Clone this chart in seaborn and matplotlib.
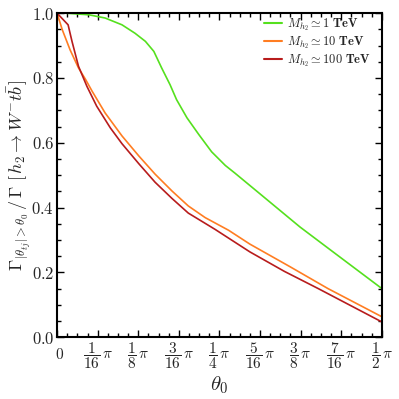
import numpy as np
import pandas as pd
import matplotlib
matplotlib.use("Agg")
import matplotlib.pyplot as plt
import matplotlib.transforms as mtransforms
import seaborn as sns

# theta_0 in units of pi, and ratio values
x_1tev = [0.0, 0.013, 0.049, 0.074, 0.100, 0.120, 0.136, 0.149, 0.161, 0.174,
          0.184, 0.200, 0.218, 0.238, 0.259, 0.274, 0.312, 0.374, 0.423, 0.5]
y_1tev = [1.0, 1.0, 0.995, 0.985, 0.964, 0.938, 0.913, 0.882, 0.831, 0.779,
          0.733, 0.677, 0.626, 0.572, 0.530, 0.506, 0.443, 0.340, 0.266, 0.150]

x_10tev = [0.0, 0.008, 0.020, 0.033, 0.044, 0.054, 0.074, 0.100, 0.126, 0.151,
           0.177, 0.202, 0.228, 0.264, 0.297, 0.359, 0.417, 0.5]
y_10tev = [1.0, 0.949, 0.887, 0.831, 0.795, 0.759, 0.692, 0.621, 0.559, 0.503,
           0.451, 0.405, 0.369, 0.330, 0.287, 0.217, 0.150, 0.063]

x_100tev = [0.0, 0.017, 0.023, 0.033, 0.046, 0.061, 0.082, 0.100, 0.126, 0.151,
            0.177, 0.202, 0.243, 0.297, 0.350, 0.402, 0.5]
y_100tev = [1.0, 0.964, 0.913, 0.836, 0.774, 0.713, 0.646, 0.597, 0.535, 0.478,
            0.428, 0.383, 0.333, 0.263, 0.203, 0.150, 0.047]

labels = [r"$\boldsymbol{M_{h_2}}\simeq\mathbf{1\ TeV}$",
          r"$\boldsymbol{M_{h_2}}\simeq\mathbf{10\ TeV}$",
          r"$\boldsymbol{M_{h_2}}\simeq\mathbf{100\ TeV}$"]
colors = ["#55e01e", "#ff7d22", "#b81c1c"]

xtick_k = [0, 1, 2, 3, 4, 5, 6, 7, 8]
xtick_labels = ["$0$", r"$\dfrac{1}{16}\,\pi$", r"$\dfrac{1}{8}\,\pi$", r"$\dfrac{3}{16}\,\pi$",
                r"$\dfrac{1}{4}\,\pi$", r"$\dfrac{5}{16}\,\pi$", r"$\dfrac{3}{8}\,\pi$",
                r"$\dfrac{7}{16}\,\pi$", r"$\dfrac{1}{2}\,\pi$"]
ytick_vals = [0.0, 0.2, 0.4, 0.6, 0.8, 1.0]

frames = []
for xs, ys, lab in zip([x_1tev, x_10tev, x_100tev], [y_1tev, y_10tev, y_100tev], labels):
    frames.append(pd.DataFrame({"theta": np.array(xs) * np.pi, "ratio": ys, "mass": lab}))
df = pd.concat(frames, ignore_index=True)

sns.set_style("ticks")
plt.rcParams["font.family"] = ["DejaVu Serif"]
plt.rcParams["mathtext.fontset"] = "cm"

fig = plt.figure(figsize=(3.99, 3.99), dpi=100)
ax = fig.add_axes([0.143, 0.155, 0.814, 0.812])

sns.lineplot(data=df, x="theta", y="ratio", hue="mass", palette=colors,
             hue_order=labels, ax=ax, linewidth=1.2, sort=False, estimator=None)

ax.set_xlim(0, np.pi / 2)
ax.set_ylim(0, 1.0)
ax.set_xticks([k * np.pi / 16 for k in xtick_k])
ax.set_xticklabels(xtick_labels, fontsize=11)
ax.set_xticks([k * np.pi / 64 for k in range(33)], minor=True)
ax.set_yticks(ytick_vals)
ax.set_yticklabels([f"${v:.1f}$" for v in ytick_vals], fontsize=12)
ax.set_yticks(np.arange(0, 1.0001, 0.05), minor=True)

ax.tick_params(which="both", direction="in", top=True, right=True, width=1.0, color="black")
ax.tick_params(which="major", length=5, pad=2)
ax.tick_params(which="minor", length=3)
for s in ax.spines.values():
    s.set_linewidth(1.5)
    s.set_color("black")

# shift the "0" tick label down so it is centred like the fraction labels
zero_lbl = ax.get_xticklabels()[0]
zero_lbl.set_transform(zero_lbl.get_transform() +
                       mtransforms.ScaledTranslation(0.02, -0.07, fig.dpi_scale_trans))

ax.set_xlabel(r"$\boldsymbol{\theta_0}$", fontsize=15)
ax.xaxis.set_label_coords(0.5, -0.115)
ax.set_ylabel(r"$\mathbf{\Gamma}_{|\theta_{tj}|>\theta_0}\,/\,\mathbf{\Gamma}\ \mathbf{[}\,h_2\to W^{-}t\bar{b}\,\mathbf{]}$",
              fontsize=13)
ax.yaxis.set_label_coords(-0.075, 0.5)

leg = ax.legend(loc="upper right", frameon=False, fontsize=9, handlelength=1.4,
                handletextpad=0.4, labelspacing=0.1, borderaxespad=0.0, borderpad=0.0,
                bbox_to_anchor=(0.965, 0.99))
for h in leg.get_lines():
    h.set_linewidth(1.5)

fig.savefig("out.png", dpi=100)
